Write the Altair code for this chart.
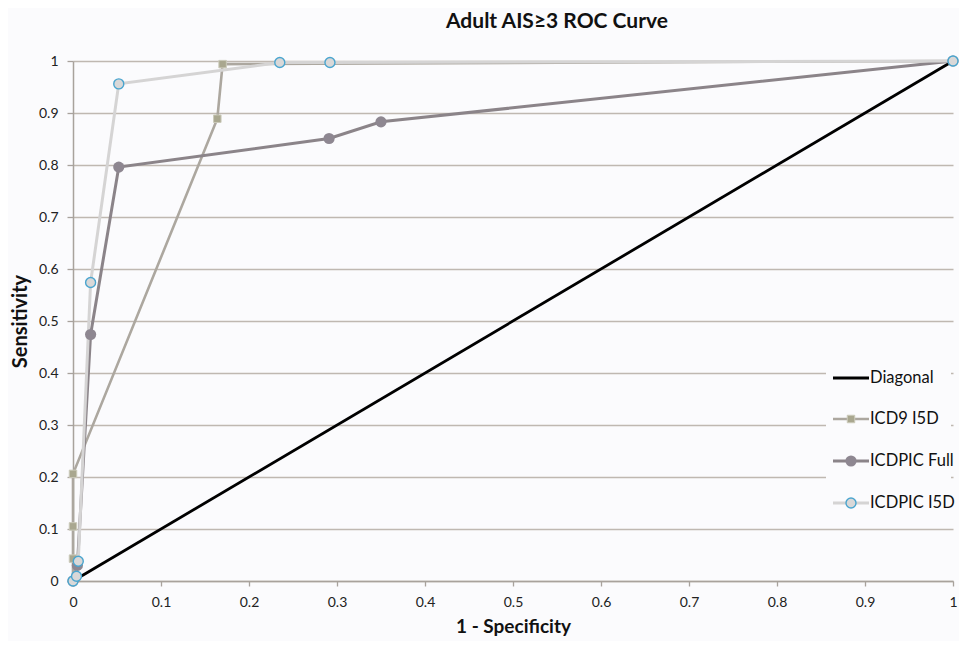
import altair as alt
import pandas as pd

# ---- data ----
diag_x = [0.0, 1.0]
diag_y = [0.0, 1.0]

icd9_x = [0.0, 0.0, 0.0, 0.0, 0.164, 0.170, 1.0]
icd9_y = [0.0, 0.043, 0.105, 0.206, 0.889, 0.994, 1.0]

full_x = [0.0, 0.005, 0.020, 0.052, 0.291, 0.350, 1.0]
full_y = [0.0, 0.030, 0.474, 0.796, 0.851, 0.883, 1.0]

i5d_x = [0.0, 0.004, 0.006, 0.020, 0.052, 0.235, 0.292, 1.0]
i5d_y = [0.0, 0.009, 0.038, 0.574, 0.956, 0.997, 0.997, 1.0]

tick_values = [0, 0.1, 0.2, 0.3, 0.4, 0.5, 0.6, 0.7, 0.8, 0.9, 1]
legend_labels = ["Diagonal", "ICD9 I5D", "ICDPIC Full", "ICDPIC I5D"]

title_text = "Adult AIS≥3 ROC Curve"
x_title = "1 - Specificity"
y_title = "Sensitivity"

FONT = "Lato"
BG = "#fbfbfd"
GRID = "#bfb8b1"
AXC = "#a8a29c"


def frame(xs, ys):
    return pd.DataFrame({"x": xs, "y": ys, "i": list(range(len(xs)))})


x_axis = alt.Axis(values=tick_values, format="~g", grid=False, title=x_title,
                  domainColor=AXC, domainWidth=1.5, tickColor=AXC,
                  tickSize=5, tickWidth=1.3, labelPadding=9, labelFontSize=14,
                  labelFont=FONT, labelColor="#222222", titleFont=FONT,
                  titleFontSize=19, titleFontWeight="bold", titleColor="#111111",
                  titlePadding=8, labelFlush=False)
y_axis = alt.Axis(values=tick_values, format="~g", grid=True, gridColor=GRID,
                  gridWidth=1.4, title=y_title, domainColor=AXC, domainWidth=1.5,
                  tickColor=AXC, tickSize=6, tickWidth=1.3, labelPadding=9,
                  labelFontSize=14, labelFont=FONT, labelColor="#222222",
                  titleFont=FONT, titleFontSize=20, titleFontWeight="bold",
                  titleColor="#111111", titlePadding=8, labelFlush=False)

X = alt.X("x:Q", scale=alt.Scale(domain=[0, 1], nice=False), axis=x_axis)
Y = alt.Y("y:Q", scale=alt.Scale(domain=[0, 1], nice=False), axis=y_axis)
O = alt.Order("i:Q")

SQ = dict(shape="square", filled=True, size=56, color="#a9a78f", stroke="#cbcaba", strokeWidth=1, opacity=1)
FC = dict(shape="circle", filled=True, size=125, color="#8e8791", opacity=1)
OC = dict(shape="circle", filled=True, size=100, fill="#d9d8d8", stroke="#4aa5cf", strokeWidth=1.4, opacity=1)

diag = alt.Chart(frame(diag_x, diag_y)).mark_line(color="#000000", strokeWidth=2.8).encode(x=X, y=Y, order=O)
icd9_line = alt.Chart(frame(icd9_x, icd9_y)).mark_line(color="#aca79f", strokeWidth=2.6).encode(x=X, y=Y, order=O)
icd9_pts = alt.Chart(frame(icd9_x, icd9_y)).mark_point(**SQ).encode(x=X, y=Y)
full_line = alt.Chart(frame(full_x, full_y)).mark_line(color="#8b8489", strokeWidth=3).encode(x=X, y=Y, order=O)
full_pts = alt.Chart(frame(full_x, full_y)).mark_point(**FC).encode(x=X, y=Y)
i5d_line = alt.Chart(frame(i5d_x, i5d_y)).mark_line(color="#d5d4d4", strokeWidth=3).encode(x=X, y=Y, order=O)
i5d_pts = alt.Chart(frame(i5d_x, i5d_y)).mark_point(**OC).encode(x=X, y=Y)

layers = [diag, icd9_line, full_line, i5d_line, icd9_pts, full_pts, i5d_pts]

# ---- legend (inside plot, right side) ----
leg_box = alt.Chart(pd.DataFrame({"a": [0]})).mark_rect(fill=BG).encode(
    x=alt.value(753), x2=alt.value(878), y=alt.value(299), y2=alt.value(457))
layers.append(leg_box)

leg_rows = [317, 358, 400, 442]
leg_line_colors = ["#000000", "#aca79f", "#8b8489", "#d5d4d4"]
leg_line_widths = [2.8, 2.6, 3, 3]
leg_markers = [None, SQ, FC, OC]
for k, lab in enumerate(legend_labels):
    yy = leg_rows[k]
    d = pd.DataFrame({"label": [lab]})
    layers.append(alt.Chart(d).mark_rule(color=leg_line_colors[k], strokeWidth=leg_line_widths[k]).encode(
        x=alt.value(760), x2=alt.value(796), y=alt.value(yy)))
    if leg_markers[k] is not None:
        layers.append(alt.Chart(d).mark_point(**leg_markers[k]).encode(x=alt.value(778), y=alt.value(yy)))
    layers.append(alt.Chart(d).mark_text(align="left", baseline="middle", font=FONT, fontSize=16.5,
                                         color="#111111").encode(
        x=alt.value(797), y=alt.value(yy), text="label:N"))

chart = alt.layer(*layers).properties(
    width=880, height=520,
    autosize=alt.AutoSizeParams(type="none"),
    padding={"left": 65, "top": 53, "right": 6, "bottom": 60},
    background=BG,
    title=alt.TitleParams(text=title_text, font=FONT, fontSize=21, fontWeight="bold",
                          color="#111111", anchor="middle", dx=44, offset=21, frame="group"),
).configure_view(stroke=None)

chart.save("out.html", embed_options={"renderer": "svg", "actions": False})
